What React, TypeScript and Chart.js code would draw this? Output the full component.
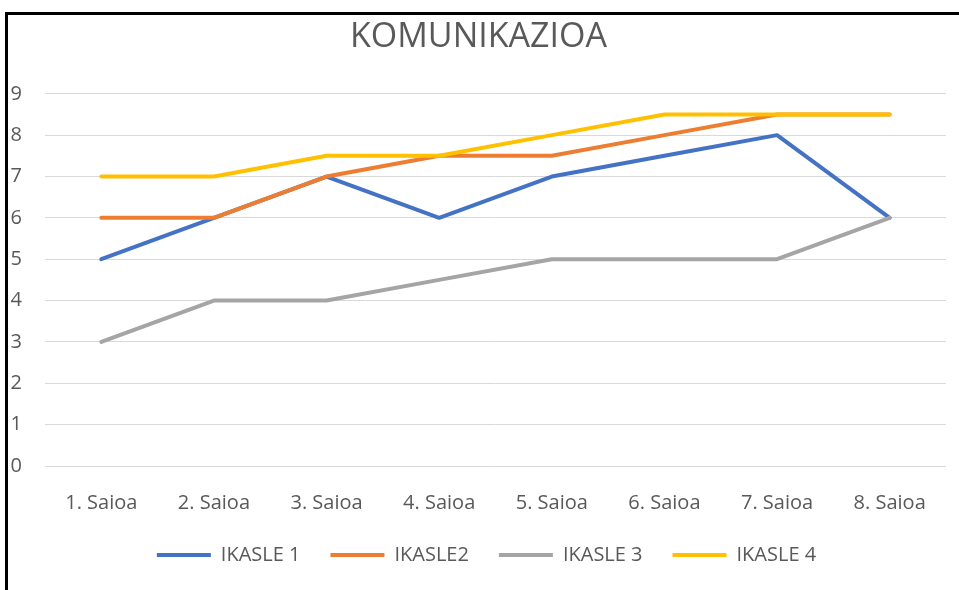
import React, { useEffect, useRef } from "react";
import { Chart, registerables } from "chart.js";

Chart.register(...registerables);

const categories = ["1. Saioa", "2. Saioa", "3. Saioa", "4. Saioa", "5. Saioa", "6. Saioa", "7. Saioa", "8. Saioa"];
const ikasle1 = [5, 6, 7, 6, 7, 7.5, 8, 6];
const ikasle2 = [6, 6, 7, 7.5, 7.5, 8, 8.5, 8.5];
const ikasle3 = [3, 4, 4, 4.5, 5, 5, 5, 6];
const ikasle4 = [7, 7, 7.5, 7.5, 8, 8.5, 8.5, 8.5];
const seriesNames = ["IKASLE 1", "IKASLE2", "IKASLE 3", "IKASLE 4"];
const seriesColors = ["#4472C4", "#ED7D31", "#A5A5A5", "#FFC000"];
const yMin = 0;
const yMax = 9;
const yStep = 1;

const FONT = "'Open Sans', 'Noto Sans', sans-serif";
const TEXT = "#595959";

const legendShift = {
  id: "legendShift",
  afterLayout(chart: any) {
    if (chart.legend) {
      chart.legend.left += 8;
      chart.legend.right += 8;
    }
  },
};

export default function App() {
  const ref = useRef<HTMLCanvasElement>(null);

  useEffect(() => {
    document.body.style.margin = "0";
    const values = [ikasle1, ikasle2, ikasle3, ikasle4];
    const chart = new Chart(ref.current as HTMLCanvasElement, {
      type: "line",
      plugins: [legendShift],
      data: {
        labels: categories,
        datasets: values.map((v, i) => ({
          label: seriesNames[i],
          data: v,
          borderColor: seriesColors[i],
          backgroundColor: seriesColors[i],
          borderWidth: 4,
          pointRadius: 0,
          pointHoverRadius: 0,
          tension: 0,
          fill: false,
          borderCapStyle: "round" as const,
          borderJoinStyle: "round" as const,
          order: values.length - 1 - i,
        })),
      },
      options: {
        responsive: false,
        animation: false,
        layout: { padding: { left: 11, right: 13, top: 0, bottom: 15 } },
        plugins: {
          title: {
            display: true,
            text: "KOMUNIKAZIOA",
            color: TEXT,
            font: { family: FONT, size: 34, weight: "normal" },
            padding: { top: 17, bottom: 36 },
          },
          legend: {
            position: "bottom",
            labels: {
              usePointStyle: true,
              pointStyleWidth: 54,
              padding: 30,
              color: TEXT,
              font: { family: FONT, size: 20 },
              generateLabels: (c: any) =>
                c.data.datasets.map((ds: any, i: number) => ({
                  text: ds.label,
                  fillStyle: ds.borderColor,
                  strokeStyle: ds.borderColor,
                  lineWidth: 4,
                  pointStyle: "line",
                  lineCap: "butt",
                  hidden: false,
                  datasetIndex: i,
                  fontColor: TEXT,
                })),
            },
          },
          tooltip: { enabled: false },
        },
        scales: {
          x: {
            offset: true,
            grid: { display: false, drawTicks: false },
            border: { display: false },
            ticks: { color: TEXT, font: { family: FONT, size: 20 }, padding: 25, maxRotation: 0, autoSkip: false },
            afterFit: (s: any) => {
              s.height = 49;
            },
          },
          y: {
            min: yMin,
            max: yMax,
            grid: { color: "#D9D9D9", lineWidth: 1, drawTicks: false },
            border: { display: false },
            ticks: { stepSize: yStep, color: TEXT, font: { family: FONT, size: 20 }, padding: 23 },
            afterFit: (s: any) => {
              s.width = 34;
            },
          },
        },
      },
    });
    return () => chart.destroy();
  }, []);

  return (
    <div style={{ position: "relative", width: 959, height: 590, overflow: "hidden", background: "#fff" }}>
      <div
        style={{
          position: "absolute",
          left: 5,
          top: 12,
          width: 2000,
          height: 2000,
          borderLeft: "3px solid #000",
          borderTop: "3px solid #000",
        }}
      />
      <canvas
        ref={ref}
        width={959}
        height={590}
        style={{ position: "absolute", left: 0, top: 0, width: 959, height: 590 }}
      />
    </div>
  );
}
